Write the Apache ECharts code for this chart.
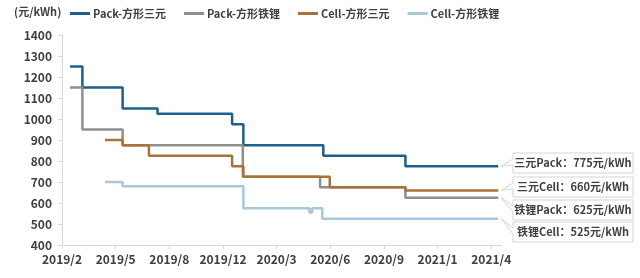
<!DOCTYPE html>
<html><head><meta charset="utf-8">
<script src="https://cdn.jsdelivr.net/npm/echarts@6/dist/echarts.min.js"></script>
<style>html,body{margin:0;padding:0;background:#fff}#c{width:640px;height:278px}</style>
</head><body><div id="c"></div>
<script>
// x tick labels (axis is measured in tick-label units: 0 = 2019/2, 1 = 2019/5, ...)
const xTickLabels = ['2019/2','2019/5','2019/8','2019/12','2020/3','2020/6','2020/9','2021/1','2021/4'];
const seriesNames = ['Pack-方形三元','Pack-方形铁锂','Cell-方形三元','Cell-方形铁锂'];
const unit = '(元/kWh)';

// price change points: x (tick units), price (元/kWh)
const packNcmX  = [0.15, 0.38, 1.13, 1.78, 3.17, 3.38, 4.87, 6.40, 8.13];
const packNcmY  = [1250, 1150, 1050, 1025, 975,  875,  825,  775,  775];
const packLfpX  = [0.15, 0.38, 1.13, 3.37, 4.81, 6.40, 8.13];
const packLfpY  = [1150, 950,  875,  725,  675,  625,  625];
const cellNcmX  = [0.80, 1.13, 1.62, 3.17, 3.38, 4.99, 6.40, 8.13];
const cellNcmY  = [900,  875,  825,  775,  725,  675,  660,  660];
const cellLfpX  = [0.80, 1.13, 3.38, 4.61, 4.66, 4.85, 8.13];
const cellLfpY  = [700,  680,  575,  555,  575,  525,  525];

const annoPrefix = ['三元Pack：','铁锂Pack：','三元Cell：','铁锂Cell：'];

const colors = ['#1F5F8B','#8F8F8F','#A8733A','#A9C7DA'];
const FONT = 'Noto Sans CJK SC';
const TXT = '#404040';

const xs = [packNcmX, packLfpX, cellNcmX, cellLfpX];
const ys = [packNcmY, packLfpY, cellNcmY, cellLfpY];

const chart = echarts.init(document.getElementById('c'), null, {renderer:'canvas'});
const series = seriesNames.map((n,i)=>({
  name:n, type:'line', step:'end', symbol:'none',
  data: xs[i].map((x,k)=>[x, ys[i][k]]),
  lineStyle:{color:colors[i], width:2.5},
  itemStyle:{color:colors[i]},
  z: 2 + (i===2?2:(i===1?1:i===3?3:0))
}));

chart.setOption({
  animation:false,
  textStyle:{fontFamily:FONT},
  title:{text:unit, left:14, top:6, padding:0,
    textStyle:{fontSize:11, fontWeight:'bold', color:TXT, fontFamily:FONT}},
  legend:{left:70, top:8, padding:0, itemGap:18, itemWidth:20, itemHeight:3, icon:'rect',
    data:seriesNames.map((n,i)=>({name:n, itemStyle:{color:colors[i]}})),
    textStyle:{fontSize:11, fontWeight:'bold', color:TXT, fontFamily:FONT, padding:[0,0,0,-2]}},
  grid:{left:62, right:138, top:35, bottom:33, containLabel:false},
  xAxis:{type:'value', min:0, max:8.2, interval:1,
    axisLine:{show:true, lineStyle:{color:'#d9d9d9'}},
    axisTick:{show:true, length:4, lineStyle:{color:'#d9d9d9'}, customValues:xTickLabels.map((_,i)=>i)},
    axisLabel:{customValues:xTickLabels.map((_,i)=>i), formatter:v=>xTickLabels[Math.round(v)]||'',
      fontSize:12, fontWeight:'bold', color:TXT, fontFamily:FONT, margin:8},
    splitLine:{show:false}},
  yAxis:{type:'value', min:400, max:1400, interval:100,
    axisLine:{show:true, lineStyle:{color:'#d9d9d9'}},
    axisTick:{show:true, length:4, lineStyle:{color:'#d9d9d9'}},
    axisLabel:{formatter:v=>String(v), fontSize:12, fontWeight:'bold', color:TXT, fontFamily:FONT, margin:10},
    splitLine:{show:false}},
  series: series
});

// callout annotations at series ends
const boxOrder = [0,2,1,3];          // which series each box refers to (top to bottom)
const boxCenters = [163,187,210,232];
const L = 513, R = 633, H = 20;
const graphics = [];
boxOrder.forEach((si,bi)=>{
  const last = [xs[si][xs[si].length-1], ys[si][ys[si].length-1]];
  const p = chart.convertToPixel({seriesIndex:si}, last);
  const c = boxCenters[bi], t = c - H/2, b = c + H/2;
  const tip = [p[0]+3, p[1]];
  graphics.push({type:'polygon', shape:{points:[[L,t],[R,t],[R,b],[L,b],[L,c+2],tip,[L,c-4]]},
    style:{fill:'#fff', stroke:'#d4d4d4', lineWidth:1}, z:10});
  graphics.push({type:'text', x:(L+R)/2, y:c, z:11,
    style:{text:annoPrefix[si]+last[1]+'元/kWh', fill:TXT, font:'bold 11px "'+FONT+'"', align:'center', verticalAlign:'middle'}});
});
chart.setOption({graphic:graphics});
</script></body></html>
